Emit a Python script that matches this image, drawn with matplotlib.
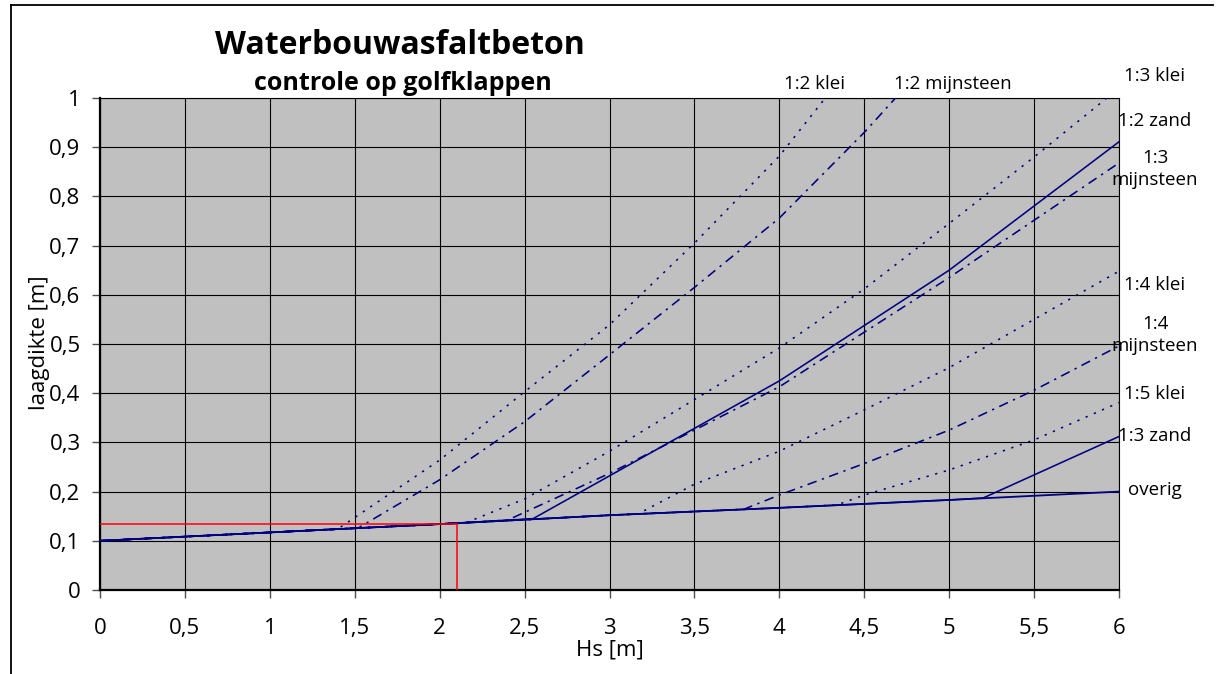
import matplotlib
matplotlib.use("Agg")
import matplotlib.pyplot as plt
from matplotlib.lines import Line2D
from matplotlib.ticker import MultipleLocator, FuncFormatter
import numpy as np

# Waterbouwasfaltbeton - laagdikte versus Hs
hs_base = [0, 1, 2, 3, 4, 5, 6]
overig = [0.100, 0.117, 0.134, 0.152, 0.167, 0.183, 0.200]

# each curve: points from where it leaves the "overig" line
klei_12_x = [1.4, 2, 2.5, 3, 3.5, 4, 4.5]
klei_12_y = [0.124, 0.264, 0.403, 0.539, 0.705, 0.882, 1.10]
mijn_12_x = [1.52, 2, 2.5, 3, 3.5, 4, 4.5, 5]
mijn_12_y = [0.126, 0.224, 0.342, 0.478, 0.615, 0.756, 0.93, 1.12]
klei_13_x = [2.15, 2.5, 3, 3.5, 4, 4.5, 5, 5.5, 6]
klei_13_y = [0.136, 0.185, 0.282, 0.387, 0.492, 0.612, 0.745, 0.88, 1.02]
zand_12_x = [2.55, 3, 4, 5, 6]
zand_12_y = [0.145, 0.232, 0.425, 0.650, 0.911]
mijn_13_x = [2.4, 3, 4, 5, 6]
mijn_13_y = [0.142, 0.237, 0.413, 0.635, 0.868]
klei_14_x = [3.17, 3.5, 4, 4.5, 5, 5.5, 6]
klei_14_y = [0.155, 0.215, 0.282, 0.366, 0.452, 0.55, 0.648]
mijn_14_x = [3.79, 4, 4.5, 5, 5.5, 6]
mijn_14_y = [0.164, 0.193, 0.257, 0.325, 0.406, 0.496]
klei_15_x = [4.34, 4.5, 5, 5.5, 6]
klei_15_y = [0.173, 0.193, 0.244, 0.305, 0.381]
zand_13_x = [5.2, 6]
zand_13_y = [0.187, 0.312]

# check point (red)
hs_check = 2.1
d_check = 0.134

DOT = (0, (1.4, 4.2))
DASHDOT = (0, (6, 3.5, 1.4, 3.5))
NAVY = "#000080"

curves = [
    (klei_12_x, klei_12_y, DOT),
    (mijn_12_x, mijn_12_y, DASHDOT),
    (klei_13_x, klei_13_y, DOT),
    (zand_12_x, zand_12_y, "-"),
    (mijn_13_x, mijn_13_y, DASHDOT),
    (klei_14_x, klei_14_y, DOT),
    (mijn_14_x, mijn_14_y, DASHDOT),
    (klei_15_x, klei_15_y, DOT),
    (zand_13_x, zand_13_y, "-"),
]

plt.rcParams["font.family"] = ["Open Sans", "DejaVu Sans"]

fig = plt.figure(figsize=(12.16, 6.74), dpi=100)
ax = fig.add_axes([100 / 1216, 1 - 590 / 674, 1019 / 1216, 492 / 674])
ax.set_facecolor("#C0C0C0")

ax.plot(hs_base, overig, color=NAVY, lw=1.3, zorder=3)
for xs, ys, ls in curves:
    bx = [h for h in hs_base if h < xs[0]]
    by = list(np.interp(bx, hs_base, overig))
    ax.plot(bx + xs, by + ys, color=NAVY, lw=1.15, linestyle=ls, zorder=3)

ax.plot([0, hs_check, hs_check], [d_check, d_check, 0], color="#FF0000", lw=1.1, zorder=4)

ax.set_xlim(0, 6)
ax.set_ylim(0, 1)
ax.xaxis.set_major_locator(MultipleLocator(0.5))
ax.yaxis.set_major_locator(MultipleLocator(0.1))
fmt = FuncFormatter(lambda v, p: f"{round(v, 2):g}".replace(".", ","))
ax.xaxis.set_major_formatter(fmt)
ax.yaxis.set_major_formatter(fmt)
ax.grid(True, color="black", lw=0.8)
ax.set_axisbelow(True)
ax.tick_params(axis="both", direction="out", length=6, width=1, color="#505050", labelsize=16)
ax.tick_params(axis="x", pad=14)
ax.tick_params(axis="y", pad=8)
for s in ["top", "right"]:
    ax.spines[s].set_linewidth(0.8)
for s in ["bottom", "left"]:
    ax.spines[s].set_linewidth(1.6)

fig.text(610 / 1216, 1 - 650 / 674, "Hs [m]", ha="center", va="center", fontsize=16)
fig.text(40 / 1216, 1 - 343 / 674, "laagdikte [m]", ha="center", va="center", rotation=90, fontsize=16)

fig.text(400 / 1216, 1 - 46 / 674, "Waterbouwasfaltbeton", ha="center", va="center",
         fontsize=23, fontweight="bold")
fig.text(403 / 1216, 1 - 84 / 674, "controle op golfklappen", ha="center", va="center",
         fontsize=18, fontweight="bold")

# series labels
right_labels = ["1:3 klei", "1:2 zand", "1:3\nmijnsteen", "1:4 klei", "1:4\nmijnsteen",
                "1:5 klei", "1:3 zand", "overig"]
right_y = [76, 121, 169, 285, 335, 394, 436, 490]
for lab, py in zip(right_labels, right_y):
    fig.text(1155 / 1216, 1 - py / 674, lab, ha="center", va="center", fontsize=13.5,
             linespacing=1.25)
top_labels = ["1:2 klei", "1:2 mijnsteen"]
top_x = [815, 953]
for lab, px in zip(top_labels, top_x):
    fig.text(px / 1216, 1 - 84 / 674, lab, ha="center", va="center", fontsize=13.5)

# outer frame (left and top only)
fig.add_artist(Line2D([11 / 1216, 11 / 1216], [0, 1 - 5 / 674], color="black", lw=1.3))
fig.add_artist(Line2D([11 / 1216, 1213 / 1216], [1 - 5 / 674, 1 - 5 / 674], color="black", lw=1.3))

fig.savefig("out.png", dpi=100)
